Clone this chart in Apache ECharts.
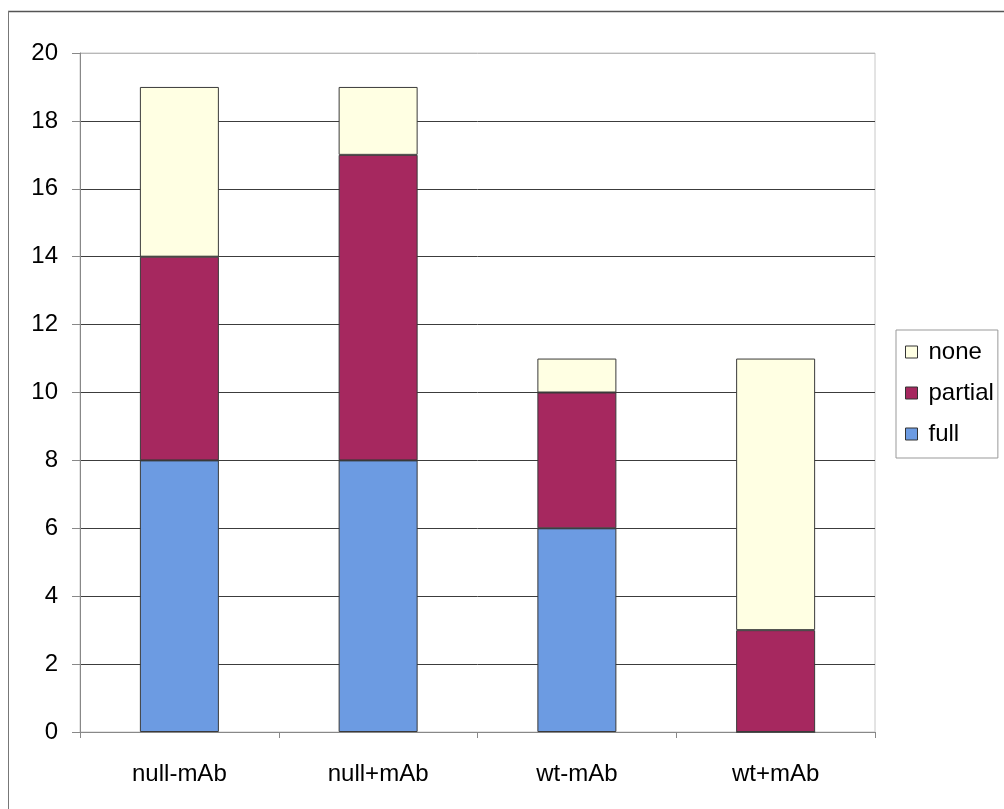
<!DOCTYPE html>
<html><head><meta charset="utf-8">
<script src="https://cdn.jsdelivr.net/npm/echarts@6/dist/echarts.min.js"></script>
<style>html,body{margin:0;padding:0;background:#fff}#c{width:1004px;height:809px}</style>
</head><body><div id="c"></div>
<script>
const categories = ['null-mAb', 'null+mAb', 'wt-mAb', 'wt+mAb'];
const fullVals = [8, 8, 6, 0];
const partialVals = [6, 9, 4, 3];
const noneVals = [5, 2, 1, 8];
const legendOrder = ['none', 'partial', 'full'];

const chart = echarts.init(document.getElementById('c'), null, {renderer: 'canvas'});
const font = 'Liberation Sans, Arial, sans-serif';
const barStyle = (c) => ({color: c, borderColor: '#3a3a3a', borderWidth: 1});
const splitColors = [];
for (let i = 0; i <= 10; i++) splitColors.push(i === 10 ? '#b8b8b8' : '#3c3c3c');

chart.setOption({
  animation: false,
  backgroundColor: '#fff',
  textStyle: {fontFamily: font},
  grid: {left: 80, right: 129, top: 53, bottom: 77, containLabel: false,
         show: true, borderColor: '#c8c8c8', borderWidth: 1},
  legend: {
    data: legendOrder, orient: 'vertical', left: 896, top: 330,
    icon: 'rect', itemWidth: 12, itemHeight: 12, itemGap: 17,
    padding: [10, 4, 12, 9], borderColor: '#999', borderWidth: 1,
    textStyle: {fontSize: 24, color: '#000', fontFamily: font, padding: [0, 0, 0, 6]},
    itemStyle: {borderColor: '#333', borderWidth: 1}
  },
  xAxis: {
    type: 'category', data: categories, boundaryGap: true,
    axisLine: {show: true, lineStyle: {color: '#888', width: 1}},
    axisTick: {show: true, alignWithLabel: false, length: 6, lineStyle: {color: '#888'}},
    axisLabel: {fontSize: 24, color: '#000', margin: 30, fontFamily: font}
  },
  yAxis: {
    type: 'value', min: 0, max: 20, interval: 2,
    axisLine: {show: true, lineStyle: {color: '#888', width: 1}},
    axisTick: {show: true, length: 8, lineStyle: {color: '#888'}},
    axisLabel: {fontSize: 24, color: '#000', margin: 22, fontFamily: font},
    splitLine: {show: true, lineStyle: {color: splitColors, width: 1}}
  },
  graphic: [
    {type: 'line', shape: {x1: 8, y1: 11.5, x2: 1004, y2: 11.5}, style: {stroke: '#555', lineWidth: 1.5}},
    {type: 'line', shape: {x1: 8.5, y1: 11, x2: 8.5, y2: 809}, style: {stroke: '#777', lineWidth: 1}}
  ],
  series: [
    {name: 'full', type: 'bar', stack: 's', data: fullVals, barWidth: 79, itemStyle: barStyle('#6c9be2')},
    {name: 'partial', type: 'bar', stack: 's', data: partialVals, barWidth: 79, itemStyle: barStyle('#a6285f')},
    {name: 'none', type: 'bar', stack: 's', data: noneVals, barWidth: 79, itemStyle: barStyle('#ffffe3')}
  ]
});
</script></body></html>
